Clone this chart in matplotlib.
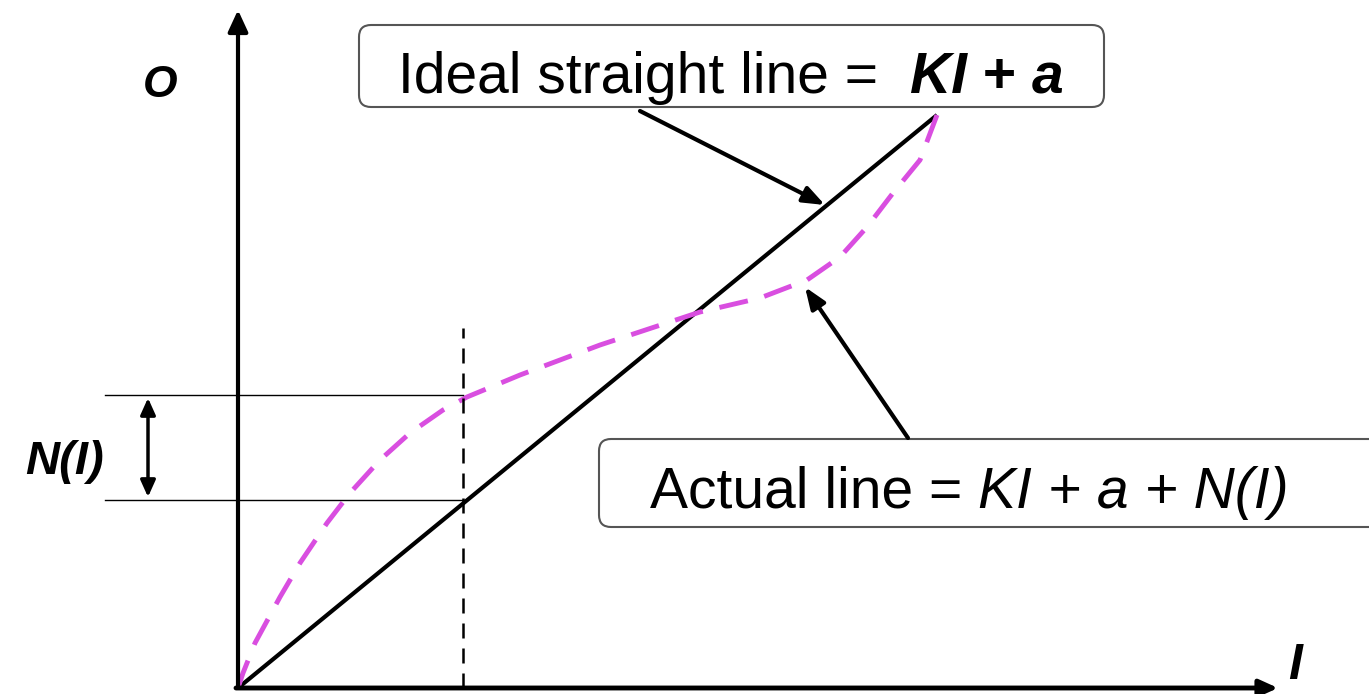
import matplotlib
matplotlib.use("Agg")
import matplotlib.pyplot as plt
from matplotlib.patches import FancyBboxPatch

# schematic data: input I vs output O (units = px offset from origin, y up)
ideal_I = [0, 699]
ideal_O = [0, 573]
actual_I = [0, 5, 17, 42, 62, 89, 112, 142, 172, 205, 229, 282, 362, 462, 522,
            569, 602, 629, 655, 682, 699]
actual_O = [0, 15, 45, 91, 125, 165, 195, 228, 255, 278, 291, 313, 343, 376, 390,
            408, 431, 461, 495, 528, 573]
I_ref = 225
O_ideal_ref = 188
O_actual_ref = 293

FONT = "Liberation Sans"

fig = plt.figure(figsize=(13.69, 6.94), dpi=100)
ax = fig.add_axes([0, 0, 1, 1])
ax.set_xlim(-238, 1131)
ax.set_ylim(-6, 688)
ax.axis("off")

# axes arrows
ax.annotate("", xy=(0, 678), xytext=(0, 0),
            arrowprops=dict(arrowstyle="-|>,head_length=1.3,head_width=0.6", lw=3, color="black",
                            shrinkA=0, shrinkB=0))
ax.annotate("", xy=(1040, 0), xytext=(-2, 0),
            arrowprops=dict(arrowstyle="-|>,head_length=1.1,head_width=0.5", lw=3.5, color="black",
                            shrinkA=0, shrinkB=0))
ax.text(-78, 603, "O", fontsize=32, fontweight="bold", style="italic", family=FONT,
        ha="center", va="center")
ax.text(1057, 22, "I", fontsize=36, fontweight="bold", style="italic", family=FONT,
        ha="center", va="center")

# ideal and actual lines
ax.plot(ideal_I, ideal_O, color="black", lw=3, solid_capstyle="butt")
ax.plot(actual_I, actual_O, color="#d94ee0", lw=3.5, dashes=(6, 3.5))

# reference input
ax.plot([I_ref, I_ref], [0, 360], color="black", lw=1.8, dashes=(6, 4))
ax.plot([-133, I_ref], [O_actual_ref, O_actual_ref], color="black", lw=1)
ax.plot([-133, I_ref], [O_ideal_ref, O_ideal_ref], color="black", lw=1)
ax.annotate("", xy=(-90, O_actual_ref - 3), xytext=(-90, O_ideal_ref + 3),
            arrowprops=dict(arrowstyle="<|-|>,head_length=1.0,head_width=0.45", lw=2.5,
                            color="black", shrinkA=0, shrinkB=0))
ax.text(-173, 226, "N(I)", fontsize=34, fontweight="bold", style="italic", family=FONT,
        ha="center", va="center")

# label boxes
box1 = FancyBboxPatch((121, 581), 745, 82, boxstyle="round,pad=0,rounding_size=12",
                      fc="white", ec="#555555", lw=1.5)
ax.add_patch(box1)
box2 = FancyBboxPatch((361, 161), 800, 88, boxstyle="round,pad=0,rounding_size=12",
                      fc="white", ec="#555555", lw=1.5, clip_on=False)
ax.add_patch(box2)

fig.canvas.draw()
renderer = fig.canvas.get_renderer()


def run_text(x, y, parts, size):
    # place text pieces one after another along a baseline
    for s, weight, style in parts:
        t = ax.text(x, y, s, fontsize=size, fontweight=weight, style=style, family=FONT,
                    ha="left", va="baseline")
        bb = t.get_window_extent(renderer)
        x = ax.transData.inverted().transform((bb.x1, bb.y0))[0]


run_text(160, 595, [("Ideal straight line =  ", "normal", "normal"),
                    ("KI", "bold", "italic"), (" + ", "bold", "normal"),
                    ("a", "bold", "italic")], 41)
run_text(412, 180, [("Actual line = ", "normal", "normal"),
                    ("KI + a + N(I)", "normal", "italic")], 41)

# pointer arrows
ax.annotate("", xy=(587, 483), xytext=(402, 577),
            arrowprops=dict(arrowstyle="-|>,head_length=1.3,head_width=0.5", lw=3,
                            color="black", shrinkA=0, shrinkB=0))
ax.annotate("", xy=(567, 401), xytext=(670, 250),
            arrowprops=dict(arrowstyle="-|>,head_length=1.3,head_width=0.5", lw=3,
                            color="black", shrinkA=0, shrinkB=0))

fig.savefig("out.png", dpi=100)
